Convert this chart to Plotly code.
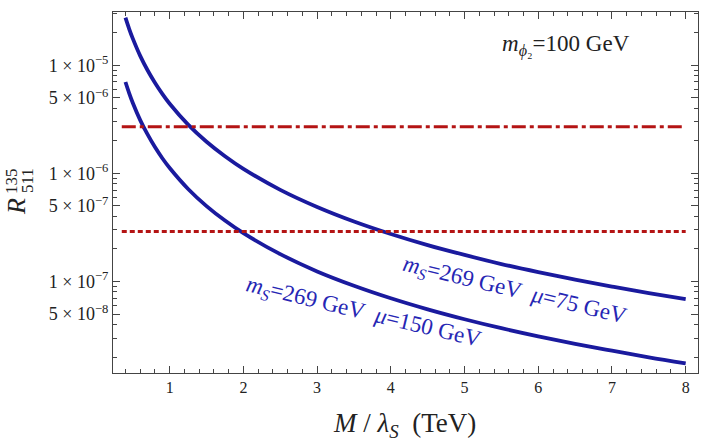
import plotly.graph_objects as go

# Data
M_vals = [0.4, 0.45, 0.5, 0.6, 0.7, 0.8, 0.9, 1.0, 1.25, 1.5, 1.75, 2.0, 2.5, 3.0, 3.5, 4.0, 4.5, 5.0, 5.5, 6.0, 6.5, 7.0, 7.5, 8.0]
R_mu75 = [2.75e-5, 2.17e-5, 1.76e-5, 1.22e-5, 8.98e-6, 6.88e-6, 5.43e-6, 4.40e-6, 2.82e-6, 1.96e-6, 1.44e-6,
          1.10e-6, 7.04e-7, 4.89e-7, 3.59e-7, 2.75e-7, 2.17e-7, 1.76e-7, 1.45e-7, 1.22e-7, 1.04e-7, 8.98e-8, 7.82e-8, 6.88e-8]
R_mu150 = [7.0e-6, 5.53e-6, 4.48e-6, 3.11e-6, 2.29e-6, 1.75e-6, 1.38e-6, 1.12e-6, 7.17e-7, 4.98e-7, 3.66e-7,
           2.80e-7, 1.79e-7, 1.24e-7, 9.14e-8, 7.0e-8, 5.53e-8, 4.48e-8, 3.70e-8, 3.11e-8, 2.65e-8, 2.29e-8, 1.99e-8, 1.75e-8]
bound_x = [0.35, 8.0]
bound_dashdot = 2.7e-6
bound_dotted = 2.9e-7

x_major = [1, 2, 3, 4, 5, 6, 7, 8]
x_minor = [round(0.2 * i, 1) for i in range(1, 41) if round(0.2 * i, 1) % 1 != 0]
y_major = [5e-8, 1e-7, 5e-7, 1e-6, 5e-6, 1e-5]
y_major_text = ["5 × 10<sup>−8</sup>", "1 × 10<sup>−7</sup>", "5 × 10<sup>−7</sup>",
                "1 × 10<sup>−6</sup>", "5 × 10<sup>−6</sup>", "1 × 10<sup>−5</sup>"]
y_minor = [m * 10.0 ** e for e in (-8, -7, -6, -5) for m in (2, 3, 4, 6, 7, 8, 9)]

blue = "#1a1a9e"
red = "#b41414"
txtblue = "#2626b4"
font = "Liberation Serif"

fig = go.Figure()
fig.add_trace(go.Scatter(x=M_vals, y=R_mu75, mode="lines", line=dict(color=blue, width=3.8, shape="spline")))
fig.add_trace(go.Scatter(x=M_vals, y=R_mu150, mode="lines", line=dict(color=blue, width=3.8, shape="spline")))
fig.add_trace(go.Scatter(x=bound_x, y=[bound_dashdot] * 2, mode="lines",
                         line=dict(color=red, width=3, dash="14px,4px,4px,4px")))
fig.add_trace(go.Scatter(x=bound_x, y=[bound_dotted] * 2, mode="lines",
                         line=dict(color=red, width=3, dash="5px,3px")))

fig.update_layout(
    width=713, height=442,
    margin=dict(l=113, r=15, t=12, b=69),
    paper_bgcolor="white", plot_bgcolor="white",
    showlegend=False,
    font=dict(family=font, color="#222"),
)
fig.update_xaxes(
    range=[0.231, 8.167], showgrid=False, zeroline=False,
    showline=True, linecolor="#444", linewidth=1.2, mirror="allticks",
    ticks="inside", ticklen=7, tickcolor="#444", tickvals=x_major,
    tickfont=dict(size=16, family=font, color="#222"),
    minor=dict(tickvals=x_minor, ticks="inside", ticklen=4, tickcolor="#444"),
)
fig.update_yaxes(
    type="log", range=[-7.846, -4.508], showgrid=False, zeroline=False,
    showline=True, linecolor="#444", linewidth=1.2, mirror="allticks",
    ticks="inside", ticklen=7, tickcolor="#444",
    tickvals=y_major, ticktext=y_major_text,
    tickfont=dict(size=18, family=font, color="#222"),
    minor=dict(tickvals=y_minor, ticks="inside", ticklen=4, tickcolor="#444"),
)

ann = [
    dict(text="<i>M</i> / <i>λ<sub>S</sub></i>  (TeV)", x=(404 - 113) / 585, y=(373 - 425) / 361, size=27, angle=0,
         color="#222"),
    dict(text="<i>R</i>", x=(17 - 113) / 585, y=(373 - 207) / 361, size=26, angle=-90, color="#222"),
    dict(text="135", x=(11 - 113) / 585, y=(373 - 181) / 361, size=17, angle=-90, color="#222"),
    dict(text="511", x=(27 - 113) / 585, y=(373 - 181) / 361, size=17, angle=-90, color="#222"),
    dict(text="<i>m</i><sub><i>ϕ</i>₂</sub>=100 GeV", x=(566 - 113) / 585, y=(373 - 45) / 361, size=23, angle=0,
         color="#222"),
    dict(text="<i>m<sub>S</sub></i>=269 GeV  <i>μ</i>=75 GeV", x=(514 - 113) / 585, y=(373 - 291) / 361, size=23,
         angle=13.5, color=txtblue),
    dict(text="<i>m<sub>S</sub></i>=269 GeV  <i>μ</i>=150 GeV", x=(363 - 113) / 585, y=(373 - 313) / 361, size=23,
         angle=13.5, color=txtblue),
]
for a in ann:
    fig.add_annotation(text=a["text"], x=a["x"], y=a["y"], xref="paper", yref="paper",
                       xanchor="center", yanchor="middle", showarrow=False, textangle=a["angle"],
                       font=dict(family=font, size=a["size"], color=a["color"]))

fig.write_html("out.html")
